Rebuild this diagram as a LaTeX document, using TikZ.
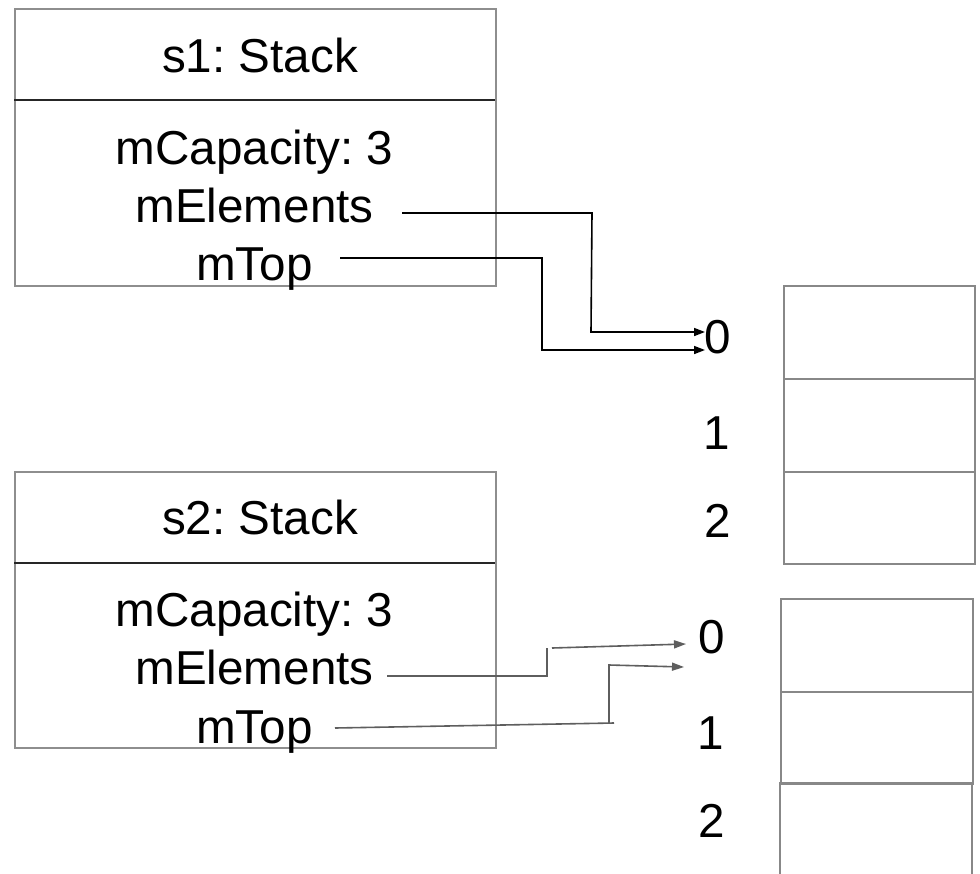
\documentclass[tikz,border=0pt]{standalone}
\usepackage{fontspec}
\setmainfont{Liberation Sans}
\usetikzlibrary{arrows.meta}
\definecolor{boxgray}{HTML}{8E8E8E}
\definecolor{cellgray}{HTML}{888888}
\definecolor{conngray}{HTML}{5E5E5E}
\frenchspacing
\begin{document}
\begin{tikzpicture}[x=1pt,y=-1pt,
  lbl/.style={font=\fontsize{47.6}{57}\selectfont, inner sep=0pt, anchor=base},
  objframe/.style={draw=boxgray, line width=1.5pt, minimum width=481pt, anchor=north west, inner sep=0pt},
  divider/.style={draw=black!85, line width=1.5pt},
  cell/.style={draw=cellgray, line width=2pt, anchor=north west, inner sep=0pt},
  connA/.style={draw=black, line width=1.6pt, -{Triangle[length=11pt,width=8pt]}},
  connB/.style={draw=conngray, line width=1.6pt, -{Triangle[length=12pt,width=8pt]}}]
\fill[white] (0,0) rectangle (980,873);
\useasboundingbox (0,0) rectangle (980,873);

% object s1
\node[objframe, minimum height=277pt] (s1box) at (14,8) {};
\draw[divider] (14,100) -- (495,100);
\node[lbl] (s1name) at (260,72) {s1: Stack};
\node[lbl] (s1cap) at (254.5,164) {mCapacity: 3};
\node[lbl] (s1elem) at (254.5,222) {mElements};
\node[lbl] (s1top) at (254.5,280) {mTop};

% object s2
\node[objframe, minimum height=276pt] (s2box) at (14,471) {};
\draw[divider] (14,563) -- (495,563);
\node[lbl] (s2name) at (260,534) {s2: Stack};
\node[lbl] (s2cap) at (254.5,626) {mCapacity: 3};
\node[lbl] (s2elem) at (254.5,684) {mElements};
\node[lbl] (s2top) at (254.5,743) {mTop};

% array 1
\node[cell, minimum width=191pt, minimum height=93pt] (a1c0) at (783,285) {};
\node[cell, minimum width=191pt, minimum height=93pt] (a1c1) at (783,378) {};
\node[cell, minimum width=191pt, minimum height=92pt] (a1c2) at (783,471) {};
\node[lbl] (a1i0) at (718,353) {0};
\node[lbl] (a1i1) at (717,449) {1};
\node[lbl] (a1i2) at (718,537) {2};

% array 2
\node[cell, minimum width=192pt, minimum height=93pt] (a2c0) at (780,598) {};
\node[cell, minimum width=192pt, minimum height=92pt] (a2c1) at (780,691) {};
\draw[draw=cellgray, line width=2pt] (780,880) -- (780,783) -- (972,783) -- (972,880);
\node[lbl] (a2i0) at (712,653) {0};
\node[lbl] (a2i1) at (711,749) {1};
\node[lbl] (a2i2) at (712,837) {2};

% connectors s1
\coordinate (s1eS) at (402,213);
\coordinate (s1eT) at (705,332);
\coordinate (s1tS) at (340,258);
\coordinate (s1tT) at (705,350);
\draw[connA] (s1eS) -- (592,213) -- (591,332) -- (s1eT);
\draw[connA] (s1tS) -- (542,258) -- (542,350) -- (s1tT);

% connectors s2
\coordinate (s2eS) at (387,676);
\coordinate (s2eT) at (686,644);
\coordinate (s2tS) at (335,728);
\coordinate (s2tT) at (684,667);
\draw[connB] (s2eS) -- (547,676) -- (547,648) (552,648) -- (s2eT);
\draw[connB] (s2tS) -- (614,723) (609,723) -- (609,665) -- (s2tT);
\end{tikzpicture}
\end{document}
